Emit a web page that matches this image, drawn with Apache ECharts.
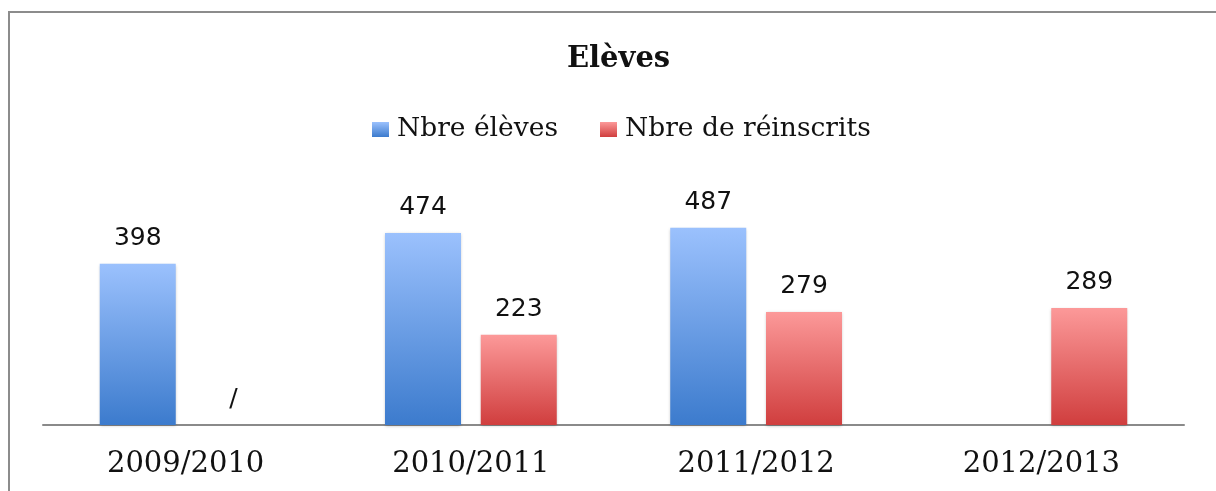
<!DOCTYPE html>
<html>
<head>
<meta charset="utf-8">
<script src="https://cdn.jsdelivr.net/npm/echarts@6/dist/echarts.min.js"></script>
<style>
html,body{margin:0;padding:0;background:#fff;}
#chart{width:1216px;height:491px;}
</style>
</head>
<body>
<div id="chart"></div>
<script>
const categories = ['2009/2010', '2010/2011', '2011/2012', '2012/2013'];
const seriesNames = ['Nbre élèves', 'Nbre de réinscrits'];
const eleves = [398, 474, 487, null];
const reinscrits = [null, 223, 279, 289];
const missingMark = ['', '/'];

const chart = echarts.init(document.getElementById('chart'));

function grad(top, bottom) {
  return new echarts.graphic.LinearGradient(0, 0, 0, 1, [
    { offset: 0, color: top },
    { offset: 1, color: bottom }
  ]);
}
const blueGrad = grad('#9bc1fd', '#3c7bcd');
const redGrad = grad('#fc9999', '#d03e3e');

function build(values, mark) {
  return values.map(v => {
    if (v === null) {
      if (!mark) return null;
      return { value: 0, label: { formatter: mark } };
    }
    return v;
  });
}

const labelStyle = {
  show: true,
  position: 'top',
  distance: 13,
  fontFamily: 'DejaVu Sans',
  fontSize: 25,
  color: '#111'
};

chart.setOption({
  animation: false,
  backgroundColor: '#fff',
  title: {
    text: 'Elèves',
    left: 562,
    top: 40,
    textStyle: { fontFamily: 'DejaVu Serif', fontWeight: 'bold', fontSize: 29, color: '#111' }
  },
  legend: {
    left: 367,
    top: 111,
    itemWidth: 17,
    itemHeight: 15,
    itemGap: 42,
    icon: 'rect',
    textStyle: { fontFamily: 'DejaVu Serif', fontSize: 26.5, color: '#111', padding: [0, 0, 0, 3] },
    data: seriesNames
  },
  grid: { left: 43, right: 32, top: 182, bottom: 66, containLabel: false },
  xAxis: {
    type: 'category',
    data: categories,
    axisLine: { lineStyle: { color: '#8a8a8a', width: 2 } },
    axisTick: { show: false },
    axisLabel: { fontFamily: 'DejaVu Serif', fontSize: 29, color: '#111', margin: 25 }
  },
  yAxis: {
    type: 'value',
    min: 0,
    max: 600,
    show: false,
    splitLine: { show: false }
  },
  series: [
    {
      name: seriesNames[0],
      type: 'bar',
      barWidth: 76,
      barGap: '26%',
      data: build(eleves, missingMark[0]),
      itemStyle: { color: blueGrad, shadowBlur: 3, shadowColor: 'rgba(0,0,0,0.25)', shadowOffsetY: 1 },
      label: labelStyle
    },
    {
      name: seriesNames[1],
      type: 'bar',
      barWidth: 76,
      barGap: '26%',
      data: build(reinscrits, missingMark[1]),
      itemStyle: { color: redGrad, shadowBlur: 3, shadowColor: 'rgba(0,0,0,0.25)', shadowOffsetY: 1 },
      label: labelStyle
    }
  ],
  graphic: [
    {
      type: 'rect',
      shape: { x: 9, y: 12, width: 1300, height: 600 },
      style: { fill: null, stroke: '#8c8c8c', lineWidth: 2 },
      silent: true,
      z: 100
    }
  ]
});
</script>
</body>
</html>
